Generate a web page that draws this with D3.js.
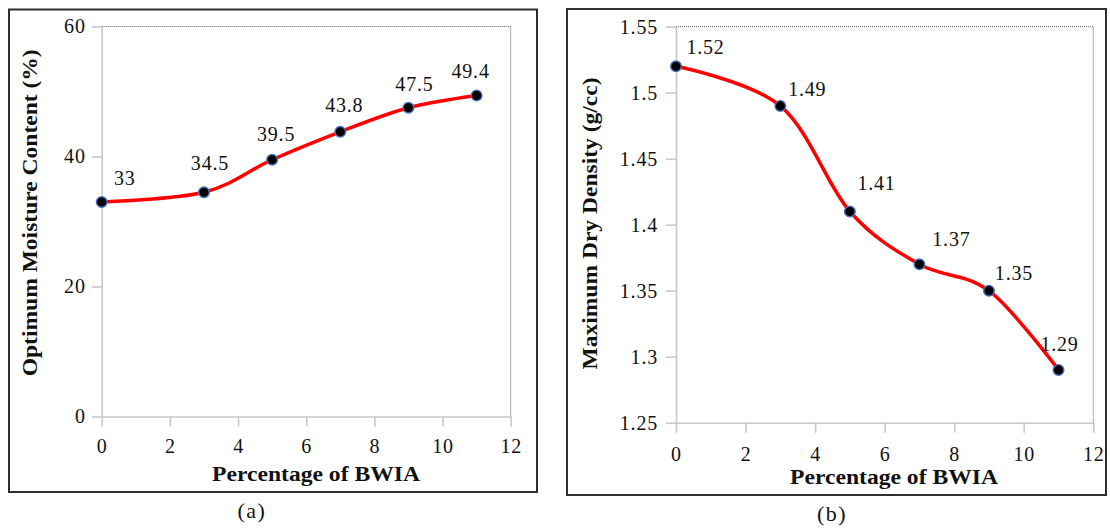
<!DOCTYPE html>
<html>
<head>
<meta charset="utf-8">
<script src="https://cdn.jsdelivr.net/npm/d3@7"></script>
<style>
  html, body { margin: 0; padding: 0; background: #fff; }
  svg { display: block; }
  text { font-family: "Liberation Serif", "Times New Roman", serif; fill: #111; }
</style>
</head>
<body>
<svg id="chart" width="1110" height="532"></svg>
<script>
// ---- data ----
const bwiaPercent = [0, 3, 5, 7, 9, 11];
const moistureContent = [33, 34.5, 39.5, 43.8, 47.5, 49.4];
const dryDensity = [1.52, 1.49, 1.41, 1.37, 1.35, 1.29];
const xTickValues = [0, 2, 4, 6, 8, 10, 12];
const moistureTicks = [0, 20, 40, 60];
const densityTicks = [1.25, 1.3, 1.35, 1.4, 1.45, 1.5, 1.55];
const moistureLabels = ["33", "34.5", "39.5", "43.8", "47.5", "49.4"];
const densityLabels = ["1.52", "1.49", "1.41", "1.37", "1.35", "1.29"];

const svg = d3.select("#chart");
const SERIF = '"Liberation Serif", "Times New Roman", serif';

function panel(cfg) {
  const g = svg.append("g");
  // outer frame
  g.append("rect")
    .attr("x", cfg.frame[0]).attr("y", cfg.frame[1])
    .attr("width", cfg.frame[2] - cfg.frame[0]).attr("height", cfg.frame[3] - cfg.frame[1])
    .attr("fill", "none").attr("stroke", "#2e2e2e").attr("stroke-width", 2);

  const x = d3.scaleLinear().domain([0, 12]).range([cfg.left, cfg.right]);
  const y = d3.scaleLinear().domain(cfg.yDomain).range([cfg.bottom, cfg.top]);

  // dotted top / right border of plot area
  g.append("path")
    .attr("d", `M${cfg.left},${cfg.top}H${cfg.right}V${cfg.bottom}`)
    .attr("fill", "none").attr("stroke", "#555").attr("stroke-width", 1)
    .attr("stroke-dasharray", "1,1");

  const xAxis = g.append("g")
    .attr("transform", `translate(0,${cfg.bottom})`)
    .call(d3.axisBottom(x).tickValues(xTickValues).tickSize(10).tickSizeOuter(0).tickPadding(cfg.xPad));
  const yAxis = g.append("g")
    .attr("transform", `translate(${cfg.left},0)`)
    .call(d3.axisLeft(y).tickValues(cfg.yTicks).tickSize(10).tickSizeOuter(0)
      .tickPadding(cfg.yPad).tickFormat(cfg.yFormat));

  [xAxis, yAxis].forEach(a => {
    a.attr("font-family", SERIF);
    a.select(".domain").attr("stroke", "#c8c8c8").attr("stroke-width", 1.6);
    a.selectAll(".tick line").attr("stroke", "#c8c8c8").attr("stroke-width", 1.6);
    a.selectAll(".tick text")
      .style("font-family", SERIF)
      .style("font-size", "20px").style("letter-spacing", "0.8px").attr("fill", "#111");
  });

  // smooth line
  const pts = bwiaPercent.map((v, i) => [v, cfg.values[i]]);
  g.append("path")
    .datum(pts)
    .attr("d", d3.line().x(d => x(d[0])).y(d => y(d[1])).curve(d3.curveCardinal.tension(0)))
    .attr("fill", "none").attr("stroke", "#ff0000").attr("stroke-width", 3.5);

  g.selectAll("circle.pt").data(pts).join("circle")
    .attr("class", "pt")
    .attr("cx", d => x(d[0])).attr("cy", d => y(d[1]))
    .attr("r", 5.3).attr("fill", "#000").attr("stroke", "#4a72c0").attr("stroke-width", 1.4);

  // data labels
  g.selectAll("text.lbl").data(pts).join("text")
    .attr("class", "lbl")
    .attr("x", (d, i) => x(d[0]) + cfg.labelOffsets[i][0])
    .attr("y", (d, i) => y(d[1]) + cfg.labelOffsets[i][1])
    .attr("text-anchor", "middle")
    .style("font-size", "20px").style("letter-spacing", "0.8px")
    .text((d, i) => cfg.labels[i]);

  // x title
  g.append("text")
    .attr("x", cfg.xTitle[0]).attr("y", cfg.xTitle[1])
    .attr("text-anchor", "middle")
    .attr("textLength", 208).attr("lengthAdjust", "spacingAndGlyphs")
    .style("font-size", "20px").style("font-weight", "bold")
    .text("Percentage of BWIA");

  // y title
  g.append("text")
    .attr("transform", `translate(${cfg.yTitle[0]},${cfg.yTitle[1]}) rotate(-90)`)
    .attr("text-anchor", "middle")
    .attr("textLength", cfg.yTitle[2]).attr("lengthAdjust", "spacingAndGlyphs")
    .style("font-size", "20px").style("font-weight", "bold")
    .text(cfg.yTitleText);

  // caption
  g.append("text")
    .attr("x", cfg.caption[0]).attr("y", cfg.caption[1])
    .attr("text-anchor", "middle")
    .style("font-size", "22px").style("letter-spacing", "1.5px")
    .text(cfg.captionText);
}

panel({
  frame: [9, 9.5, 537, 492],
  left: 101.7, right: 510.7, top: 26.5, bottom: 416.5,
  yDomain: [0, 60], yTicks: moistureTicks, yFormat: d3.format("d"),
  values: moistureContent, labels: moistureLabels,
  labelOffsets: [[23, -17], [6, -22], [4, -19], [4, -20], [6, -17], [-6, -17]],
  xPad: 12, yPad: 6,
  xTitle: [316, 481],
  yTitle: [37, 212.8, 327], yTitleText: "Optimum Moisture Content (%)",
  caption: [252, 518], captionText: "(a)"
});

panel({
  frame: [567, 9, 1106, 495],
  left: 676, right: 1093.3, top: 26.7, bottom: 422.7,
  yDomain: [1.25, 1.55], yTicks: densityTicks, yFormat: d => String(+d.toFixed(2)),
  values: dryDensity, labels: densityLabels,
  labelOffsets: [[29.5, -12], [27, -10], [26.7, -21.5], [32, -18], [25, -11], [1, -19]],
  xPad: 14, yPad: 8,
  xTitle: [894, 484],
  yTitle: [597, 223.5, 292], yTitleText: "Maximum Dry Density (g/cc)",
  caption: [832, 521], captionText: "(b)"
});
</script>
</body>
</html>
